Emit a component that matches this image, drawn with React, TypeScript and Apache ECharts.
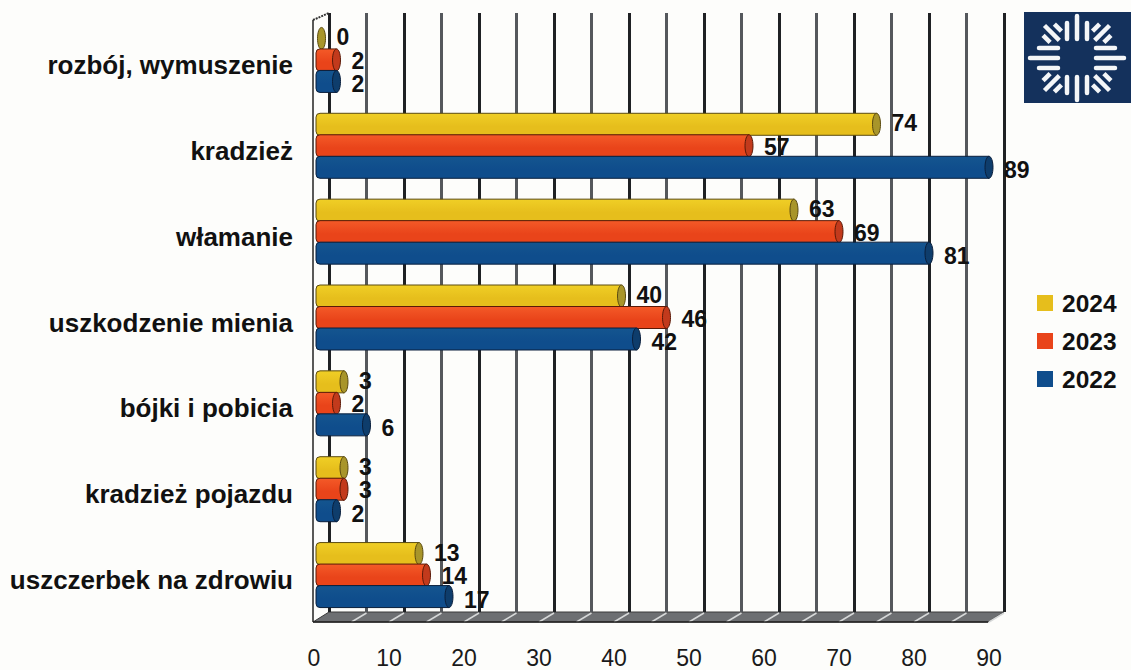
import React, { useEffect, useRef } from "react";
import * as echarts from "echarts";

const categories = ["rozbój, wymuszenie", "kradzież", "włamanie", "uszkodzenie mienia", "bójki i pobicia", "kradzież pojazdu", "uszczerbek na zdrowiu"];
const values2024 = [0, 74, 63, 40, 3, 3, 13];
const values2023 = [2, 57, 69, 46, 2, 3, 14];
const values2022 = [2, 89, 81, 42, 6, 2, 17];
const xTicks = [0, 10, 20, 30, 40, 50, 60, 70, 80, 90];
const colors2024 = ["#f0cf26", "#e6be1c", "#a8952a", "#5a4a10"];
const colors2023 = ["#f45a28", "#e9441a", "#c23a1c", "#5a1a08"];
const colors2022 = ["#14558f", "#0f4d8c", "#0e3d6c", "#0a1f3c"];

const FONT = '"Liberation Sans", Arial, sans-serif';
const BAR_H = 22;
const ROW = 21.5;

function cylinder(palette: string[], rowOffset: number) {
  return (_params: any, api: any) => {
    const v = api.value(0);
    const p = api.coord([v, api.value(1)]);
    const endX = p[0] + 7.5;
    const cy = p[1] + rowOffset * ROW;
    const top = cy - BAR_H / 2;
    const rx = 4;
    const children: any[] = [];
    if (v > 0) {
      children.push({
        type: "rect",
        shape: { x: 316, y: top, width: endX - 316, height: BAR_H, r: [4, 0, 0, 4] },
        style: {
          fill: new echarts.graphic.LinearGradient(0, 0, 0, 1, [
            { offset: 0, color: palette[0] },
            { offset: 0.6, color: palette[1] },
            { offset: 1, color: palette[1] },
          ]),
          stroke: palette[3],
          lineWidth: 1,
        },
      });
    }
    children.push({
      type: "ellipse",
      shape: { cx: endX, cy, rx, ry: BAR_H / 2 },
      style: { fill: palette[2], stroke: palette[3], lineWidth: 1 },
    });
    children.push({
      type: "text",
      x: endX + rx + 11,
      y: cy + 1 + rowOffset * 2,
      style: {
        text: String(v),
        fill: "#111",
        font: `bold 23px ${FONT}`,
        verticalAlign: "middle",
        align: "left",
      },
    });
    return { type: "group", children };
  };
}

function seriesFor(name: string, values: number[], palette: string[], rowOffset: number) {
  return {
    name,
    type: "custom",
    xAxisIndex: 0,
    yAxisIndex: 0,
    itemStyle: { color: palette[1] },
    encode: { x: 0, y: 1 },
    data: values.map((v, i) => [v, i]),
    renderItem: cylinder(palette, rowOffset),
    z: 5,
    clip: false,
  };
}

function floorGraphics() {
  const items: any[] = [];
  items.push({
    type: "polygon",
    z: -2,
    shape: { points: [[329, 612], [1004, 612], [988, 622], [313, 622]] },
    style: { fill: "#6d6f72", stroke: "#3a3a3a", lineWidth: 1 },
  });
  for (let k = 1; k <= 18; k++) {
    const back = 329 + 37.5 * k;
    items.push({
      type: "line",
      z: -1,
      shape: { x1: back, y1: 613, x2: back - 15, y2: 622 },
      style: { stroke: "#d6d8d8", lineWidth: 1.5 },
    });
  }
  items.push({ type: "line", z: 1, shape: { x1: 313, y1: 20, x2: 313, y2: 622 }, style: { stroke: "#222", lineWidth: 1.5 } });
  items.push({ type: "line", z: 1, shape: { x1: 313, y1: 20, x2: 329, y2: 13 }, style: { stroke: "#333", lineWidth: 2, lineDash: [2, 1] } });
  items.push({ type: "line", z: 1, shape: { x1: 313, y1: 622, x2: 988, y2: 622 }, style: { stroke: "#222", lineWidth: 1.5 } });
  return items;
}

function logoGraphics() {
  const cx = 1077;
  const cy = 58;
  const white = "#f4f6f8";
  const bars: any[] = [];
  [0, 1, 2, 3].forEach((q) => {
    const a = (q * Math.PI) / 2;
    const c = Math.cos(a);
    const s = Math.sin(a);
    const horizontal = q % 2 === 0;
    const rays = horizontal
      ? [[0, 19, 47], [-10, 19, 38], [10, 19, 38]]
      : [[0, 19, 42], [-10, 19, 35], [10, 19, 35]];
    rays.forEach(([o, r0, r1]) => {
      bars.push({
        type: "line",
        z: 11,
        shape: {
          x1: cx + c * r0 - s * o,
          y1: cy + s * r0 + c * o,
          x2: cx + c * r1 - s * o,
          y2: cy + s * r1 + c * o,
        },
        style: { stroke: white, lineWidth: 4.5, lineCap: "round" },
      });
    });
    const d = a + Math.PI / 4;
    const dc = Math.cos(d);
    const ds = Math.sin(d);
    [[-8, 30, 40], [0, 25, 46], [8, 30, 40]].forEach(([o, r0, r1]) => {
      bars.push({
        type: "line",
        z: 11,
        shape: {
          x1: cx + dc * r0 - ds * o,
          y1: cy + ds * r0 + dc * o,
          x2: cx + dc * r1 - ds * o,
          y2: cy + ds * r1 + dc * o,
        },
        style: { stroke: white, lineWidth: 4.5 },
      });
    });
  });
  return [
    { type: "rect", z: 10, shape: { x: 1024, y: 12, width: 107, height: 91 }, style: { fill: "#14315c" } },
    ...bars,
  ];
}

export default function App() {
  const ref = useRef<HTMLDivElement>(null);
  useEffect(() => {
    const chart = echarts.init(ref.current!, null, { renderer: "svg" });
    chart.setOption({
      animation: false,
      backgroundColor: "#fdfdfb",
      grid: [
        { left: 314, top: 17, width: 675, height: 601 },
        { left: 329, top: 13, width: 675, height: 599 },
      ],
      xAxis: [
        {
          gridIndex: 0,
          type: "value",
          min: 0,
          max: 90,
          interval: 10,
          axisLine: { show: false },
          axisTick: { show: false },
          splitLine: { show: false },
          axisLabel: {
            margin: 28,
            color: "#1a1a1a",
            fontFamily: FONT,
            fontSize: 23,
            formatter: (v: number) => (xTicks.includes(v) ? String(v) : ""),
          },
        },
        {
          gridIndex: 1,
          type: "value",
          min: 0,
          max: 90,
          interval: 10,
          axisLine: { show: false },
          axisTick: { show: false },
          axisLabel: { show: false },
          minorTick: { show: false, splitNumber: 2 },
          splitLine: { show: true, lineStyle: { color: "#1f2124", width: 3 } },
          minorSplitLine: { show: true, lineStyle: { color: "#55585c", width: 3 } },
        },
      ],
      yAxis: [
        {
          gridIndex: 0,
          type: "category",
          data: categories,
          inverse: true,
          axisLine: { show: false },
          axisTick: { show: false },
          splitLine: { show: false },
          axisLabel: {
            margin: 21,
            color: "#111",
            fontFamily: FONT,
            fontWeight: "bold",
            fontSize: 26,
            align: "right",
            verticalAlign: "top",
            lineHeight: 10,
          },
        },
        {
          gridIndex: 1,
          type: "category",
          data: categories,
          inverse: true,
          axisLine: { show: false },
          axisTick: { show: false },
          axisLabel: { show: false },
          splitLine: { show: false },
        },
      ],
      legend: {
        data: ["2024", "2023", "2022"],
        orient: "vertical",
        left: 1032,
        top: 284,
        itemWidth: 16,
        itemHeight: 16,
        itemGap: 10,
        icon: "rect",
        selectedMode: false,
        textStyle: { color: "#111", fontFamily: FONT, fontWeight: "bold", fontSize: 24.5, lineHeight: 28, padding: [0, 0, 0, 4] },
      },
      graphic: [...floorGraphics(), ...logoGraphics()],
      series: [
        seriesFor("2024", values2024, colors2024, -1),
        seriesFor("2023", values2023, colors2023, 0),
        seriesFor("2022", values2022, colors2022, 1),
      ],
    });
    return () => chart.dispose();
  }, []);
  return <div ref={ref} style={{ position: "absolute", left: 0, top: 0, width: 1131, height: 670 }} />;
}
